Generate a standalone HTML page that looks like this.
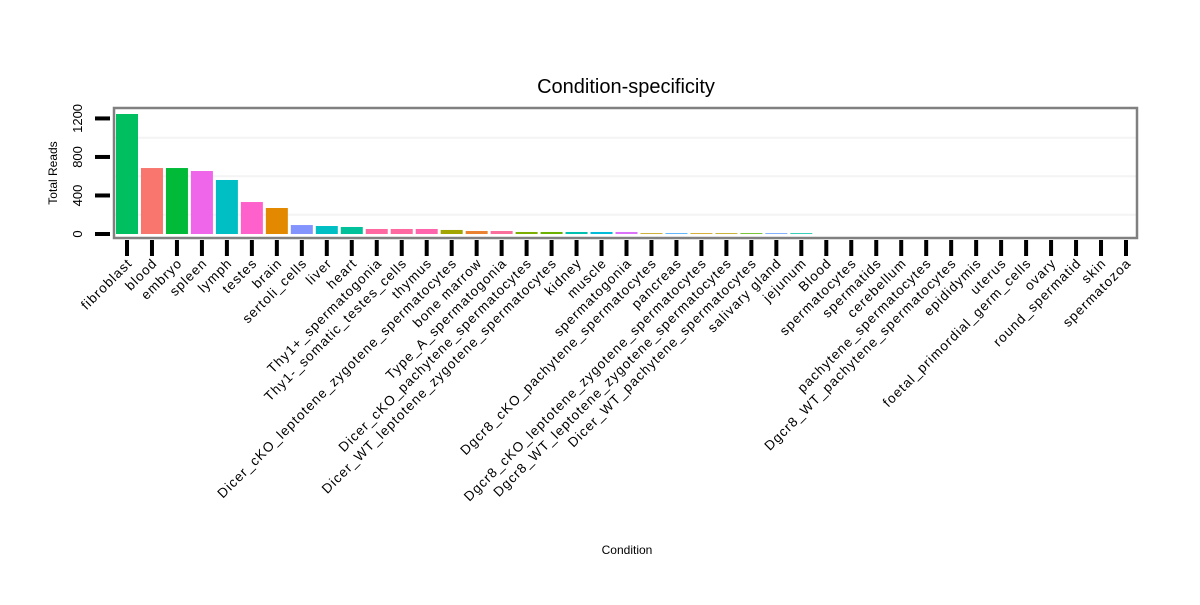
<!DOCTYPE html>
<html><head><meta charset="utf-8"><style>
body{margin:0;background:#fff;font-family:"Liberation Sans",Arial,sans-serif}
svg text{font-family:"Liberation Sans",Arial,sans-serif}
</style></head><body>
<svg id="chart" width="1200" height="600" xmlns="http://www.w3.org/2000/svg">
<text x="626" y="93" text-anchor="middle" font-size="20">Condition-specificity</text>
<text transform="translate(57,173) rotate(-90)" text-anchor="middle" font-size="12">Total Reads</text>
<text x="627" y="554" text-anchor="middle" font-size="12">Condition</text>
<g id="grid"></g><g id="bars"></g><g id="axes"></g>
<rect x="114" y="108" width="1023" height="130" fill="none" stroke="#808080" stroke-width="2.5"/>
</svg>
<script>
const categories=["fibroblast","blood","embryo","spleen","lymph","testes","brain","sertoli_cells","liver","heart","Thy1+_spermatogonia","Thy1-_somatic_testes_cells","thymus","Dicer_cKO_leptotene_zygotene_spermatocytes","bone marrow","Type_A_spermatogonia","Dicer_cKO_pachytene_spermatocytes","Dicer_WT_leptotene_zygotene_spermatocytes","kidney","muscle","spermatogonia","Dgcr8_cKO_pachytene_spermatocytes","pancreas","Dgcr8_cKO_leptotene_zygotene_spermatocytes","Dgcr8_WT_leptotene_zygotene_spermatocytes","Dicer_WT_pachytene_spermatocytes","salivary gland","jejunum","Blood","spermatocytes","spermatids","cerebellum","pachytene_spermatocytes","Dgcr8_WT_pachytene_spermatocytes","epididymis","uterus","foetal_primordial_germ_cells","ovary","round_spermatid","skin","spermatozoa"];
const values=[1246,685,685,654,561,332,270,93,83,73,52,52,52,42,31,31,21,21,21,21,21,8,8,8,8,8,8,8,0,0,0,0,0,0,0,0,0,0,0,0,0];
const colors=["#00BF60","#F8766D","#00BA38","#F066EA","#00BFC4","#FF61CC","#E38900","#8494FF","#00BFC4","#00C19A","#FF68A1","#FF68A1","#FF65AC","#A3A500","#EA8331","#FB6D9B","#7CAE00","#6BB100","#00C0AF","#00BCD8","#DC71FA","#C49A00","#35A2FF","#C99800","#BB9D00","#53B400","#619CFF","#00C1A3","#888","#888","#888","#888","#888","#888","#888","#888","#888","#888","#888","#888","#888"];
const yTicks=[0,400,800,1200];
const yGrid=[200,600,1000];
const NS="http://www.w3.org/2000/svg";
const y0=234,kY=0.0963,x0=127,step=24.975,bw=22;
const yS=v=>y0-v*kY, xS=i=>x0+i*step;
function mk(t,a,p){const e=document.createElementNS(NS,t);for(const k in a)e.setAttribute(k,a[k]);p.appendChild(e);return e;}
const G=document.getElementById('grid'),B=document.getElementById('bars'),A=document.getElementById('axes');
yGrid.forEach(v=>{const l=mk('line',{x1:115,x2:1136,y1:yS(v),y2:yS(v),stroke:'#f4f4f4','stroke-width':2},G);

});
yTicks.forEach(v=>{const l=mk('line',{x1:95,x2:110,y1:yS(v),y2:yS(v),stroke:'#000','stroke-width':4},A);


const t=mk('text',{transform:`translate(82,${yS(v)}) rotate(-90)`,'text-anchor':'middle','font-size':13},A);t.textContent=v;

});
categories.forEach((c,i)=>{const h=values[i]*kY;
if(h>0){const r=mk('rect',{x:xS(i)-bw/2,y:y0-h,width:bw,height:h,fill:colors[i]},B);

}
const l=mk('line',{x1:xS(i),x2:xS(i),y1:240,y2:256,stroke:'#000','stroke-width':4},A);


const t=mk('text',{transform:`translate(${xS(i)+6},${264}) rotate(-45)`,'text-anchor':'end','font-size':13.5,'letter-spacing':1.1},A);t.textContent=c;

});
</script>
</body></html>
